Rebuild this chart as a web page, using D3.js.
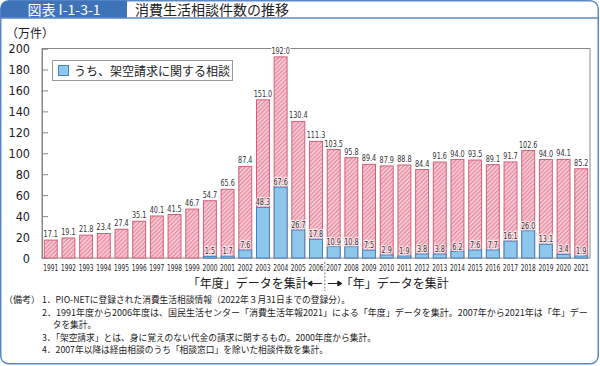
<!DOCTYPE html>
<html><head><meta charset="utf-8">
<script src="https://cdn.jsdelivr.net/npm/d3@7"></script>
<style>
body{margin:0;background:#fff;}
svg{display:block;}
.num{font-family:"DejaVu Sans Condensed","Liberation Sans Narrow","Roboto",sans-serif;}
.jp{font-family:"Noto Sans CJK JP",sans-serif;}
</style></head>
<body>
<svg id="c" width="600" height="366"></svg>
<script>
const years = ["1991","1992","1993","1994","1995","1996","1997","1998","1999","2000","2001","2002","2003","2004","2005","2006","2007","2008","2009","2010","2011","2012","2013","2014","2015","2016","2017","2018","2019","2020","2021"];
const totals = [17.1,19.1,21.8,23.4,27.4,35.1,40.1,41.5,46.7,54.7,65.6,87.4,151.0,192.0,130.4,111.3,103.5,95.8,89.4,87.9,88.8,84.4,91.6,94.0,93.5,89.1,91.7,102.6,94.0,94.1,85.2];
const billing = [null,null,null,null,null,null,null,null,null,1.5,1.7,7.6,48.3,67.6,26.7,17.8,10.9,10.8,7.5,2.9,1.9,3.8,3.8,6.2,7.6,7.7,16.1,26.0,13.1,3.4,1.9];
const yTicks = [0,20,40,60,80,100,120,140,160,180,200];
const notes = [
 "1．PIO-NETに登録された消費生活相談情報（2022年３月31日までの登録分）。",
 "2．1991年度から2006年度は、国民生活センター「消費生活年報2021」による「年度」データを集計。2007年から2021年は「年」デー",
 "　 タを集計。",
 "3．「架空請求」とは、身に覚えのない代金の請求に関するもの。2000年度から集計。",
 "4．2007年以降は経由相談のうち「相談窓口」を除いた相談件数を集計。"
];

// horizontally compress texts via transform (keeps real text)
function squeezeTo(sel, px, py, ratioFn){
  sel.each(function(d,i){
    const r = typeof ratioFn === "function" ? ratioFn.call(this,d,i) : ratioFn;
    d3.select(this).attr("x",0).attr("y",0)
      .attr("transform",`translate(${px(d,i)},${py(d,i)}) scale(${r},1)`);
  });
}

const svg = d3.select("#c");
const defs = svg.append("defs");
const pat = defs.append("pattern").attr("id","hatch").attr("patternUnits","userSpaceOnUse")
  .attr("width",3).attr("height",3).attr("patternTransform","rotate(45)");
pat.append("rect").attr("width",3).attr("height",3).attr("fill","#f9d3db");
pat.append("rect").attr("width",1.4).attr("height",3).attr("fill","#e8899e");

// outer frame
svg.append("rect").attr("x",0.75).attr("y",0.75).attr("width",597.5).attr("height",363).attr("rx",8)
  .attr("fill","#fff").attr("stroke","#5a88c8").attr("stroke-width",1.5);
svg.append("path").attr("d","M0.75,18 V8.75 A8,8 0 0 1 8.75,0.75 H127 V18 Z").attr("fill","#3f73b9");
svg.append("line").attr("x1",0.75).attr("x2",598.25).attr("y1",18).attr("y2",18).attr("stroke","#5a88c8").attr("stroke-width",1.5);
svg.append("text").attr("class","jp").attr("x",64).attr("y",14.5).attr("text-anchor","middle")
  .attr("fill","#fff").attr("font-size",14).text("図表 I-1-3-1");
svg.append("text").attr("class","jp").attr("x",135).attr("y",14.5)
  .attr("fill","#222").attr("font-size",14).text("消費生活相談件数の推移");

const x = d3.scaleBand().domain(years).range([42,590]).paddingInner(0.27).paddingOuter(0.13);
const y = d3.scaleLinear().domain([0,200]).range([258,48.5]);

// plot frame
svg.append("rect").attr("x",42).attr("y",y(200)).attr("width",548).attr("height",y(0)-y(200))
  .attr("fill","none").attr("stroke","#888").attr("stroke-width",1);

svg.append("text").attr("class","jp").attr("x",6).attr("y",38).attr("font-size",12).attr("fill","#222").text("（万件）");

const yAxis = svg.append("g").attr("transform","translate(42,0)")
  .call(d3.axisLeft(y).tickValues(yTicks).tickSize(-6).tickPadding(12));
yAxis.select(".domain").attr("stroke","#888");
yAxis.selectAll(".tick line").attr("stroke","#888");
yAxis.selectAll(".tick text").attr("class","num").attr("font-size",12.5).attr("fill","#222");

const bars = svg.append("g");
bars.selectAll("rect.tot").data(years).join("rect").attr("class","tot")
  .attr("x",d=>x(d)).attr("width",x.bandwidth())
  .attr("y",(d,i)=>y(totals[i])).attr("height",(d,i)=>y(0)-y(totals[i]))
  .attr("fill","url(#hatch)").attr("stroke","#d35f7a").attr("stroke-width",1);
const bIdx = years.map((d,i)=>i).filter(i=>billing[i]!=null);
bars.selectAll("rect.bill").data(bIdx).join("rect").attr("class","bill")
  .attr("x",i=>x(years[i])).attr("width",x.bandwidth())
  .attr("y",i=>y(billing[i])).attr("height",i=>y(0)-y(billing[i]))
  .attr("fill","#8fc7ec").attr("stroke","#3f86c1").attr("stroke-width",1);

// value labels
const tl = svg.append("g").selectAll("text").data(years).join("text").attr("class","num")
  .attr("text-anchor","middle").attr("font-size",9).attr("fill","#333")
  .attr("stroke","#fff").attr("stroke-width",2.5).attr("paint-order","stroke")
  .text((d,i)=>totals[i].toFixed(1));
squeezeTo(tl, d=>x(d)+x.bandwidth()/2, (d,i)=>y(totals[i])-3, 0.8);
const bl = svg.append("g").selectAll("text").data(bIdx).join("text").attr("class","num")
  .attr("text-anchor","middle").attr("font-size",9).attr("fill","#333")
  .attr("stroke","#fbe3e8").attr("stroke-width",2.5).attr("paint-order","stroke")
  .text(i=>billing[i].toFixed(1));
squeezeTo(bl, i=>x(years[i])+x.bandwidth()/2, i=>y(billing[i])-2, 0.8);

// x labels
const xl = svg.append("g").selectAll("text").data(years).join("text").attr("class","num")
  .attr("text-anchor","middle").attr("font-size",9.5).attr("fill","#222").text(d=>d);
squeezeTo(xl, d=>x(d)+x.bandwidth()/2, ()=>271, function(){ return 15/this.getComputedTextLength(); });

// legend
svg.append("rect").attr("x",52.5).attr("y",60.5).attr("width",180).attr("height",20)
  .attr("fill","#fff").attr("stroke","#999");
svg.append("rect").attr("x",58.5).attr("y",65.5).attr("width",10).attr("height",10)
  .attr("fill","#8fc7ec").attr("stroke","#3f86c1");
svg.append("text").attr("class","jp").attr("x",74).attr("y",75.5).attr("font-size",12).attr("fill","#222")
  .text("うち、架空請求に関する相談");

// divider annotation
const divX = (x("2006")+x.bandwidth()+x("2007"))/2;
svg.append("line").attr("x1",divX).attr("x2",divX).attr("y1",262).attr("y2",291)
  .attr("stroke","#666").attr("stroke-dasharray","2,1.5").attr("stroke-width",0.8);
svg.append("text").attr("class","jp").attr("x",divX-17).attr("y",288).attr("text-anchor","end")
  .attr("font-size",12).attr("fill","#222").text("「年度」データを集計");
svg.append("text").attr("class","jp").attr("x",divX+16).attr("y",288)
  .attr("font-size",12).attr("fill","#222").text("「年」データを集計");
const ar = svg.append("g").attr("stroke","#222").attr("fill","#222");
ar.append("line").attr("x1",divX-16).attr("x2",divX-3).attr("y1",283.5).attr("y2",283.5);
ar.append("path").attr("d",`M${divX-17},283.5 l4,-2.5 v5 z`);
ar.append("line").attr("x1",divX+3).attr("x2",divX+16).attr("y1",283.5).attr("y2",283.5);
ar.append("path").attr("d",`M${divX+17},283.5 l-4,-2.5 v5 z`);

// notes
svg.append("text").attr("class","jp").attr("x",4).attr("y",303).attr("font-size",9).attr("fill","#222").text("（備考）");
const nY = [303,315.5,328,340.5,353];
const nt = svg.append("g").selectAll("text").data(notes).join("text").attr("class","jp")
  .attr("font-size",9).attr("fill","#222").text(d=>d);
squeezeTo(nt, ()=>42, (d,i)=>nY[i], function(d,i){
  return i===1 ? 546/this.getComputedTextLength() : 0.97;
});
</script>
</body></html>
